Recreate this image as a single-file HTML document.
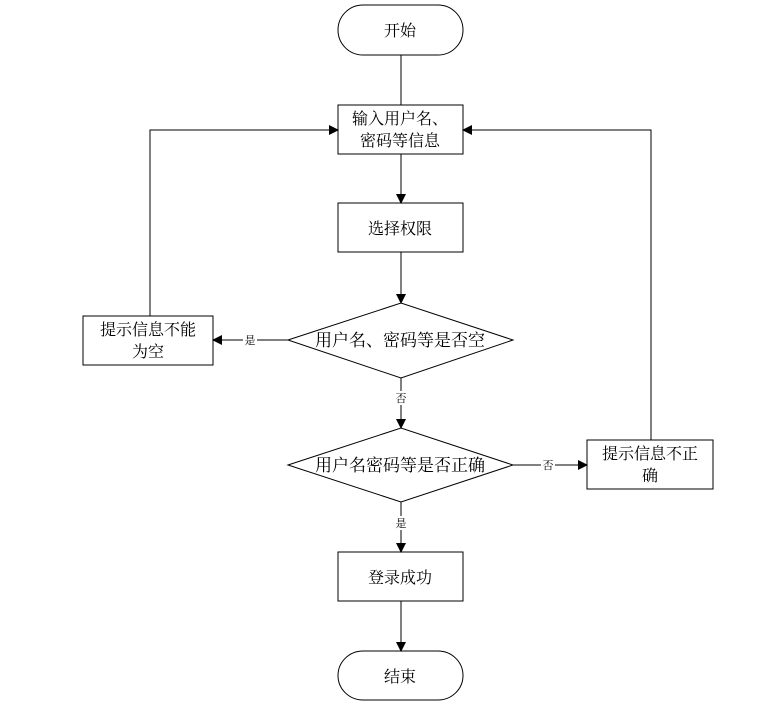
<!DOCTYPE html>
<html><head><meta charset="utf-8"><style>body{margin:0;background:#fff}</style></head><body>
<svg width="759" height="709" xmlns="http://www.w3.org/2000/svg" font-family="Liberation Serif, Noto Serif CJK SC, serif">
<defs><marker id="a" markerWidth="10" markerHeight="10" refX="9" refY="5" orient="auto" markerUnits="userSpaceOnUse"><path d="M0,0 L10,5 L0,10z" fill="#000"/></marker></defs>
<g stroke="#000" stroke-width="1" fill="none">
<rect x="338" y="5" width="125" height="50" rx="25" fill="#fff"/>
<rect x="338" y="105" width="125" height="49" fill="#fff"/>
<rect x="338" y="203" width="125" height="49" fill="#fff"/>
<polygon points="288,340 401,303 513,340 401,378" fill="#fff"/>
<polygon points="288,465 401,428 513,465 401,502" fill="#fff"/>
<rect x="83" y="316" width="130" height="49" fill="#fff"/>
<rect x="587" y="440" width="126" height="49" fill="#fff"/>
<rect x="338" y="552" width="125" height="49" fill="#fff"/>
<rect x="338" y="651" width="125" height="49" rx="25" fill="#fff"/>
<line x1="401" y1="55" x2="401" y2="105"/>
<line x1="401" y1="154" x2="401" y2="203" marker-end="url(#a)"/>
<line x1="401" y1="252" x2="401" y2="303" marker-end="url(#a)"/>
<line x1="401" y1="378" x2="401" y2="428" marker-end="url(#a)"/>
<line x1="401" y1="502" x2="401" y2="552" marker-end="url(#a)"/>
<line x1="401" y1="601" x2="401" y2="651" marker-end="url(#a)"/>
<line x1="288" y1="340" x2="213" y2="340" marker-end="url(#a)"/>
<line x1="513" y1="465" x2="587" y2="465" marker-end="url(#a)"/>
<polyline points="150,316 150,130 338,130" marker-end="url(#a)"/>
<polyline points="651,440 651,130 463,130" marker-end="url(#a)"/>
</g>
<g font-size="16" text-anchor="middle" fill="#000">
<text x="400" y="36">开始</text>
<text x="400" y="124">输入用户名、</text>
<text x="400" y="146">密码等信息</text>
<text x="400" y="234">选择权限</text>
<text x="400" y="346" font-size="17">用户名、密码等是否空</text>
<text x="400" y="471" font-size="17">用户名密码等是否正确</text>
<text x="148" y="335">提示信息不能</text>
<text x="148" y="357">为空</text>
<text x="650" y="459">提示信息不正</text>
<text x="650" y="481">确</text>
<text x="400" y="583">登录成功</text>
<text x="400" y="682">结束</text>
</g>
<g font-size="11" text-anchor="middle">
<rect x="243" y="333" width="14" height="14" fill="#fff"/><text x="250" y="344">是</text>
<rect x="394" y="391" width="14" height="14" fill="#fff"/><text x="401" y="402">否</text>
<rect x="541" y="458" width="14" height="14" fill="#fff"/><text x="548" y="469">否</text>
<rect x="394" y="516" width="14" height="14" fill="#fff"/><text x="401" y="527">是</text>
</g>
</svg>
</body></html>
